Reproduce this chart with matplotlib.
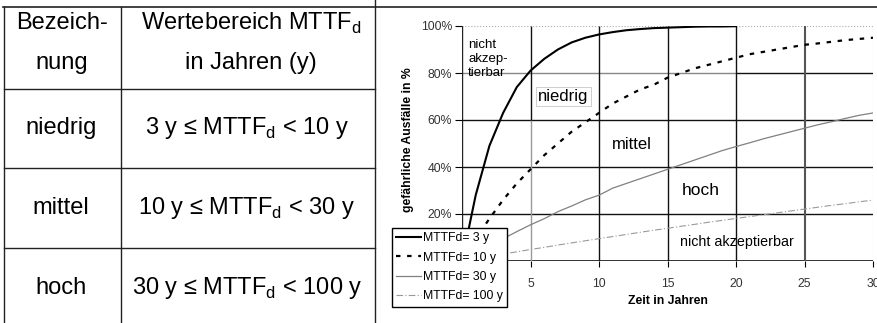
import matplotlib
matplotlib.use('Agg')
import matplotlib.pyplot as plt
from matplotlib.ticker import FuncFormatter

plt.rcParams['font.family'] = ['Liberation Sans', 'DejaVu Sans']

# left table
head_1 = ['Bezeich-', 'nung']
head_2 = [r'Wertebereich MTTF$_\mathregular{d}$', 'in Jahren (y)']
tab_names = ['niedrig', 'mittel', 'hoch']
tab_ranges = [r'3 y ≤ MTTF$_\mathregular{d}$ < 10 y',
              r'10 y ≤ MTTF$_\mathregular{d}$ < 30 y',
              r'30 y ≤ MTTF$_\mathregular{d}$ < 100 y']

# chart: dangerous failures in % over time
years_3 = list(range(0, 21))
years = list(range(0, 31))
mttf_3 = [0, 28, 49, 63, 74, 81, 86, 90, 93, 95, 96.4, 97.4, 98.2, 98.7, 99.1,
          99.3, 99.5, 99.7, 99.8, 99.8, 99.9]
mttf_10 = [0, 9.5, 18, 26, 33, 39, 45, 50, 55, 59, 63, 67, 70, 73, 75, 78, 80,
           82, 83.5, 85, 86.5, 88, 89, 90, 91, 92, 92.6, 93.3, 94, 94.5, 95]
mttf_30 = [0, 3.3, 6.4, 9.5, 12.5, 15.4, 18, 21, 23.4, 26, 28, 31, 33, 35, 37,
           39, 41, 43, 45, 47, 48.7, 50.3, 52, 53.5, 55, 56.5, 58, 59.3, 60.7, 62, 63]
mttf_100 = [0, 1, 2, 3, 3.9, 4.9, 5.8, 6.8, 7.7, 8.6, 9.5, 10.4, 11.3, 12.2, 13.1,
            13.9, 14.8, 15.6, 16.5, 17.3, 18.1, 18.9, 19.7, 20.5, 21.3, 22.1,
            22.9, 23.7, 24.4, 25.2, 25.9]
labels = ['MTTFd= 3 y', 'MTTFd= 10 y', 'MTTFd= 30 y', 'MTTFd= 100 y']

zones = ['niedrig', 'mittel', 'hoch', 'nicht akzeptierbar']


def main():
    fig = plt.figure(figsize=(8.77, 3.23), dpi=100)

    # table drawn in pixel coordinates
    tab = fig.add_axes([0, 0, 1, 1])
    tab.set_xlim(0, 877)
    tab.set_ylim(323, 0)
    tab.axis('off')
    lc = '#222222'
    tab.plot([3, 877], [7, 7], c=lc, lw=1.2)
    for x in [4, 121, 375]:
        tab.plot([x, x], [7 if x != 375 else 0, 323], c=lc, lw=1.0)
    for y in [89, 168, 248]:
        tab.plot([4, 375], [y, y], c=lc, lw=1.0)
    fs = 17
    for i, (a, b) in enumerate(zip(head_1, head_2)):
        yy = [23, 63][i]
        tab.text(62, yy, a, ha='center', va='center', fontsize=fs)
        tab.text(251, yy, b, ha='center', va='center', fontsize=fs)
    for i, (n, r) in enumerate(zip(tab_names, tab_ranges)):
        yy = [128, 208, 288][i]
        tab.text(61, yy, n, ha='center', va='center', fontsize=fs)
        tab.text(247, yy, r, ha='center', va='center', fontsize=fs)

    # chart
    ax = fig.add_axes([462/877, 1-261/323, 411/877, 235/323])
    ax.set_xlim(0, 30)
    ax.set_ylim(0, 100)
    for s in ax.spines.values():
        s.set_visible(False)

    # grid / zone lines
    ax.hlines([20, 40, 60], 0, 30, colors='#111111', lw=1.0, zorder=1)
    ax.hlines(0, 0, 30, colors='#111111', lw=1.2, zorder=1)
    ax.hlines(80, 0, 20, colors='#888888', lw=1.0, zorder=1)
    ax.hlines(80, 20, 30, colors='#111111', lw=1.0, zorder=1)
    ax.hlines(100, 0, 30, colors='#aaaaaa', lw=0.8, linestyles=':', zorder=1)
    ax.vlines(5, 0, 60, colors='#999999', lw=1.0, zorder=1)
    ax.vlines(5, 60, 100, colors='#111111', lw=1.0, zorder=1)
    ax.vlines([10, 15, 20], 0, 100, colors='#111111', lw=1.0, zorder=1)
    ax.vlines(25, 0, 100, colors='#555555', lw=1.5, zorder=1)
    ax.vlines(30, 0, 100, colors='#aaaaaa', lw=0.8, linestyles=':', zorder=1)
    ax.vlines(0, 0, 100, colors='#222222', lw=1.0, zorder=1)

    l1, = ax.plot(years_3, mttf_3, c='black', lw=1.5, zorder=3)
    l2, = ax.plot(years, mttf_10, c='black', lw=1.6, dashes=(2, 3), zorder=3)
    l3, = ax.plot(years, mttf_30, c='#808080', lw=0.9, zorder=3)
    l4, = ax.plot(years, mttf_100, c='#9a9a9a', lw=0.8, dashes=(6, 2, 1, 2), zorder=3)

    # the 0 labels sit under the legend in the original
    ax.set_xticks(range(0, 31, 5))
    ax.set_xticklabels([''] + [str(v) for v in range(5, 31, 5)])
    ax.set_yticks(range(0, 101, 20))
    ax.yaxis.set_major_formatter(FuncFormatter(lambda v, p: '%d%%' % v if v > 0 else ''))
    ax.tick_params(axis='y', direction='out', length=5, width=0.8,
                   pad=2, labelsize=8.8, labelcolor='#333333')
    ax.tick_params(axis='x', direction='out', length=4, width=0.8,
                   pad=8, labelsize=8.8, labelcolor='#333333')

    ax.set_ylabel('gefährliche Ausfälle in %', fontsize=8.8, fontweight='bold')
    ax.yaxis.set_label_coords(-0.117, 0.515)
    ax.set_xlabel('Zeit in Jahren', fontsize=8.8, fontweight='bold', labelpad=4)

    ax.text(0.45, 94.5, 'nicht\nakzep-\ntierbar', fontsize=9.5, va='top',
            ha='left', linespacing=1.25, zorder=4)
    ax.text(7.4, 69.8, zones[0], fontsize=12, ha='center', va='center', zorder=4,
            bbox=dict(fc='white', ec='#bbbbbb', lw=0.5, pad=1.5))
    ax.text(12.4, 49.4, zones[1], fontsize=12, ha='center', va='center', zorder=4)
    ax.text(17.4, 30.2, zones[2], fontsize=12.5, ha='center', va='center', zorder=4)
    ax.text(20.1, 8.1, zones[3], fontsize=10.3, ha='center', va='center', zorder=4)

    leg = ax.legend([l1, l2, l3, l4], labels, loc='upper left',
                    bbox_to_anchor=(392/877, 1-228/323), bbox_transform=fig.transFigure,
                    fontsize=8.8, frameon=True, fancybox=False, borderaxespad=0,
                    handlelength=2.0, handletextpad=0.2, labelspacing=0.6,
                    borderpad=0.35)
    leg.get_frame().set_edgecolor('black')
    leg.get_frame().set_linewidth(1.0)
    leg.get_frame().set_alpha(1)
    leg.set_zorder(10)

    fig.savefig('out.png', dpi=100)


if __name__ == "__main__":
    main()
